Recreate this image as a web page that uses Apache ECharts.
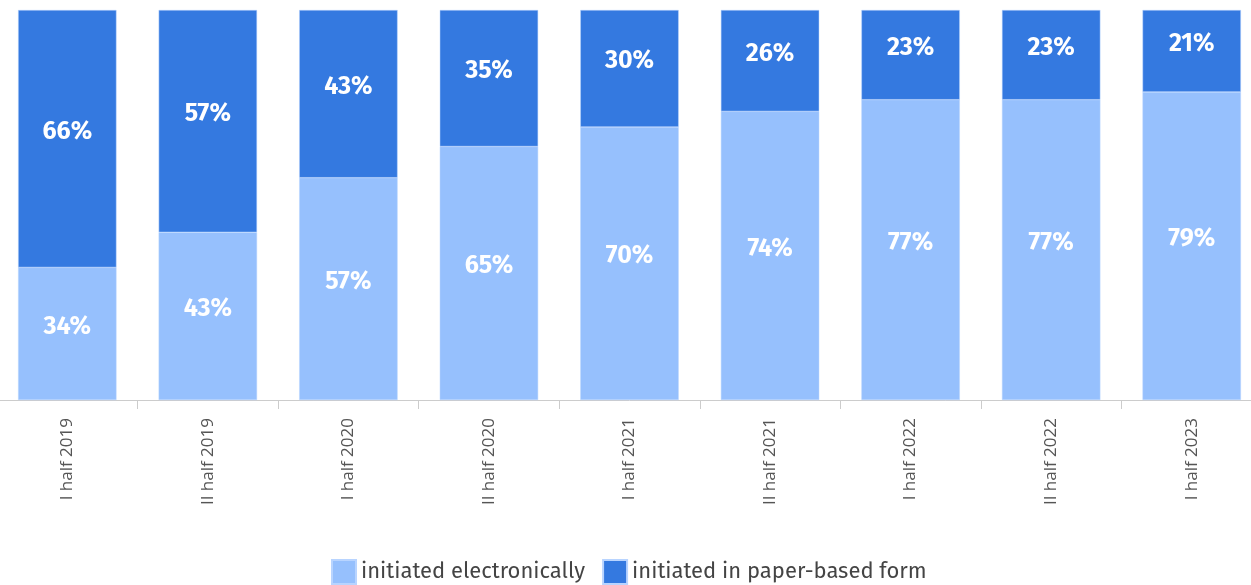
<!DOCTYPE html>
<html>
<head>
<meta charset="utf-8">
<script src="https://cdn.jsdelivr.net/npm/echarts@6/dist/echarts.min.js"></script>
<style>
  html, body { margin: 0; padding: 0; background: #ffffff; overflow: hidden; }
  #wrap { width: 1251px; height: 585px; overflow: hidden; position: relative; }
  #chart { width: 1265px; height: 585px; position: absolute; left: -3px; top: 0; }
</style>
</head>
<body>
<div id="wrap"><div id="chart"></div></div>
<script>
// Share of proceedings by how they were initiated, per half-year
const categories = ['I half 2019', 'II half 2019', 'I half 2020', 'II half 2020', 'I half 2021', 'II half 2021', 'I half 2022', 'II half 2022', 'I half 2023'];
const electronic = [34, 43, 57, 65, 70, 74, 77, 77, 79];
const paper = [66, 57, 43, 35, 30, 26, 23, 23, 21];
const seriesNames = ['initiated electronically', 'initiated in paper-based form'];
const colors = ['#96C0FD', '#3479E0'];

const font = "'Fira Sans', 'Noto Sans', 'Open Sans', sans-serif";

const valueLabel = {
  show: true,
  position: 'inside',
  offset: [0, -7],
  color: '#ffffff',
  fontSize: 25,
  fontWeight: 'bold',
  fontFamily: font,
  formatter: p => p.value + '%'
};

const chart = echarts.init(document.getElementById('chart'));
chart.setOption({
  animation: false,
  color: colors,
  grid: { left: 0, right: 0, top: 10, bottom: 185, containLabel: false },
  legend: {
    top: 559,
    left: 334,
    padding: 0,
    icon: 'rect',
    itemWidth: 24,
    itemHeight: 24,
    itemGap: 17,
    textStyle: { color: '#444', fontSize: 22, fontFamily: font }
  },
  xAxis: {
    type: 'category',
    data: categories,
    axisLine: { lineStyle: { color: '#cccccc', width: 1 } },
    axisTick: { show: true, length: 9, lineStyle: { color: '#cccccc' } },
    axisLabel: { rotate: 90, margin: 18, color: '#555', fontSize: 17, fontFamily: "'Open Sans', sans-serif" }
  },
  yAxis: { type: 'value', min: 0, max: 100, show: false, splitLine: { show: false } },
  series: [
    {
      name: seriesNames[0], type: 'bar', stack: 'total', data: electronic,
      barCategoryGap: '30%', label: valueLabel,
      itemStyle: { borderColor: '#b8d4ff', borderWidth: 0.5 }
    },
    {
      name: seriesNames[1], type: 'bar', stack: 'total', data: paper,
      barCategoryGap: '30%', label: valueLabel,
      itemStyle: { borderColor: '#b8d4ff', borderWidth: 0.5 }
    }
  ]
});
</script>
</body>
</html>
